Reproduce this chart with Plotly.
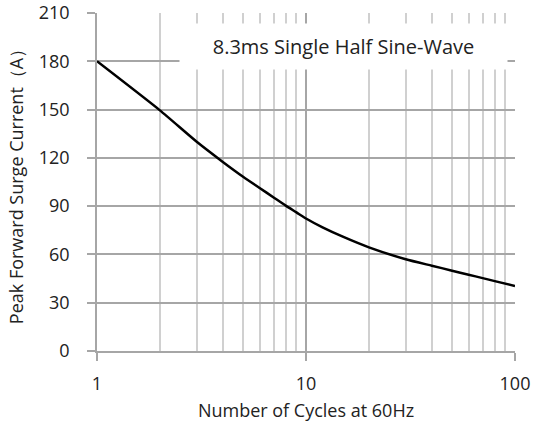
import plotly.graph_objects as go

cycles = [1, 2, 3, 4, 5, 6, 7, 8, 9, 10, 12, 15, 20, 30, 40, 50, 60, 70, 80, 100]
current = [180, 149.5, 130, 117.5, 108.3, 101.3, 95.4, 90.3, 86.1, 82.3, 76.8, 71, 64.4,
           57, 53, 49.9, 47.4, 45.3, 43.4, 40.4]
y_ticks = [0, 30, 60, 90, 120, 150, 180, 210]
x_ticks = [1, 10, 100]

font_family = "Open Sans, sans-serif"
txt = "#222222"

fig = go.Figure()
fig.add_trace(go.Scatter(
    x=cycles, y=current, mode="lines",
    line=dict(color="black", width=2.5, shape="spline", smoothing=0.6),
    hoverinfo="skip", showlegend=False,
))

fig.update_layout(
    width=533, height=430,
    margin=dict(l=97, r=18, t=13, b=79, autoexpand=False),
    paper_bgcolor="white", plot_bgcolor="white",
    font=dict(family=font_family, size=18, color=txt),
)

fig.update_xaxes(
    type="log", range=[0, 2],
    tickvals=x_ticks, ticktext=[str(v) for v in x_ticks],
    showgrid=True, gridcolor="#A6A6A6", gridwidth=1.5,
    minor=dict(dtick="D1", showgrid=True, gridcolor="#D0D0D0", gridwidth=1.5,
               ticks=""),
    ticks="outside", ticklen=8, tickcolor="#A6A6A6", tickwidth=1.5,
    ticklabelstandoff=8,
    showline=True, linecolor="#A6A6A6", linewidth=1.5,
    zeroline=False, automargin=False,
    title=dict(text="Number of Cycles at 60Hz", font=dict(size=18, color=txt), standoff=10),
    tickfont=dict(size=18, color=txt),
)

fig.update_yaxes(
    range=[0, 210],
    tickvals=y_ticks,
    showgrid=True, gridcolor="#A6A6A6", gridwidth=1.5,
    ticks="outside", ticklen=8, tickcolor="#A6A6A6", tickwidth=1.5,
    ticklabelstandoff=14,
    showline=True, linecolor="#A6A6A6", linewidth=1.5,
    zeroline=False, automargin=False,
    title=dict(text="Peak Forward Surge Current（A）", font=dict(size=18, color=txt), standoff=10),
    tickfont=dict(size=18, color=txt),
)

fig.add_annotation(
    xref="paper", yref="paper", x=0.59, y=0.90,
    text="8.3ms Single Half Sine-Wave", showarrow=False,
    font=dict(size=20, color=txt, family=font_family),
    bgcolor="white", width=325, height=43, xanchor="center", yanchor="middle",
)

fig.write_html("out.html", config={"displayModeBar": False},
               post_script="document.body.style.margin='0';document.body.style.overflow='hidden';")
